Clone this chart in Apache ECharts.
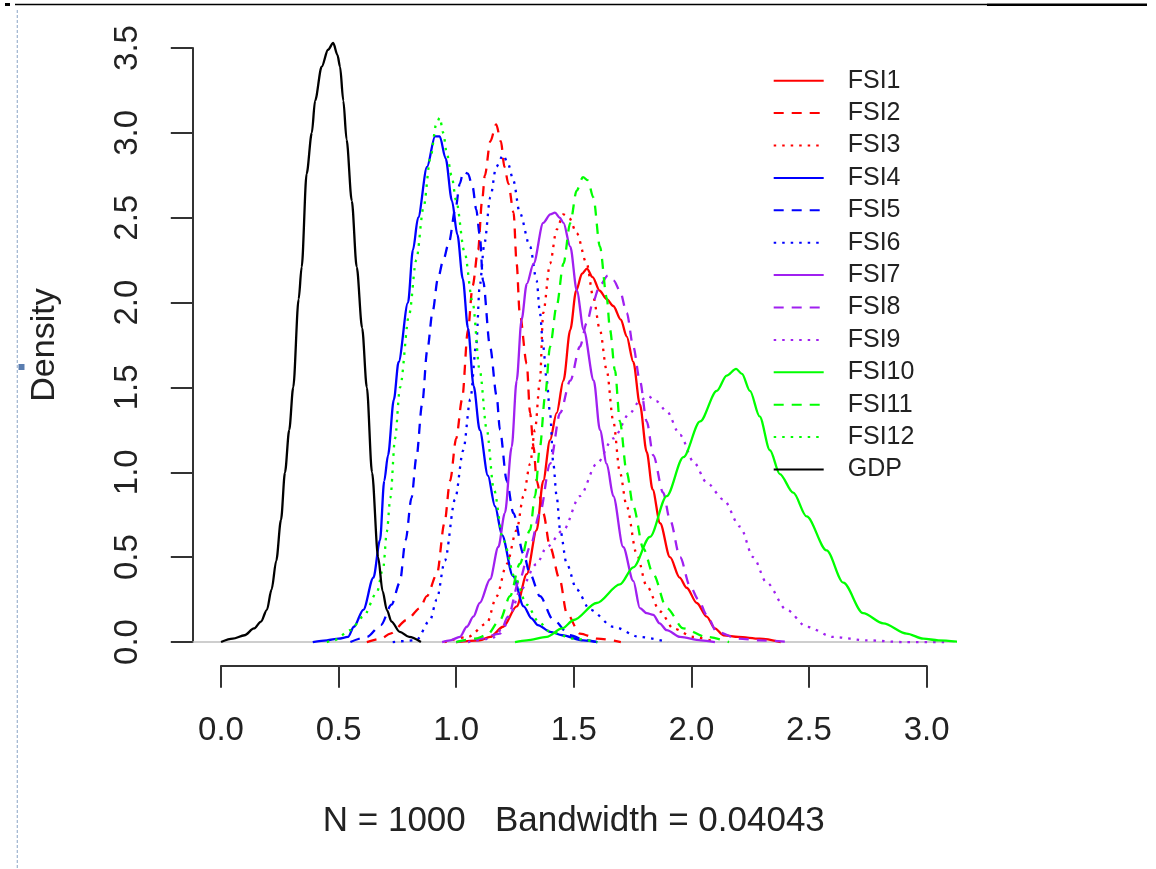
<!DOCTYPE html>
<html>
<head>
<meta charset="utf-8">
<script src="https://cdn.jsdelivr.net/npm/echarts@6/dist/echarts.min.js"></script>
<style>
html,body{margin:0;padding:0;background:#fff;}
#chart{width:1156px;height:869px;}
</style>
</head>
<body>
<div id="chart"></div>
<script>
// ---- data: [x, density] ----
const xTicks = [0, 0.5, 1.0, 1.5, 2.0, 2.5, 3.0];
const yTicks = [0, 0.5, 1.0, 1.5, 2.0, 2.5, 3.0, 3.5];
const seriesNames = ['FSI1','FSI2','FSI3','FSI4','FSI5','FSI6','FSI7','FSI8','FSI9','FSI10','FSI11','FSI12','GDP'];
const xLabel = 'N = 1000   Bandwidth = 0.04043';
const yLabel = 'Density';
const plotXRange = [-0.12, 3.12];
const plotYRange = [-0.14, 3.64];

const fsi1 = [[1.0,0.0],[1.1,0.01],[1.144,0.03],[1.2,0.09],[1.257,0.21],[1.3,0.40],[1.342,0.66],[1.37,0.95],[1.399,1.19],[1.427,1.35],[1.456,1.54],[1.485,1.84],[1.51,2.07],[1.535,2.17],[1.556,2.20],[1.58,2.15],[1.61,2.07],[1.64,2.02],[1.668,1.98],[1.70,1.9],[1.725,1.8],[1.753,1.65],[1.781,1.4],[1.81,1.12],[1.835,0.9],[1.867,0.70],[1.909,0.50],[1.95,0.38],[1.98,0.32],[2.023,0.23],[2.065,0.15],[2.1,0.08],[2.136,0.04],[2.2,0.03],[2.29,0.02],[2.38,0.0]];
const fsi2 = [[0.62,0.0],[0.68,0.02],[0.72,0.05],[0.79,0.13],[0.846,0.2],[0.875,0.27],[0.918,0.4],[0.95,0.7],[0.974,0.95],[1.0,1.2],[1.025,1.43],[1.05,1.84],[1.07,2.1],[1.093,2.31],[1.11,2.6],[1.122,2.75],[1.145,2.95],[1.17,3.05],[1.19,2.95],[1.205,2.8],[1.222,2.70],[1.244,2.53],[1.257,2.23],[1.27,1.94],[1.3,1.64],[1.314,1.35],[1.329,1.15],[1.342,0.95],[1.37,0.76],[1.399,0.56],[1.44,0.37],[1.47,0.17],[1.526,0.05],[1.6,0.02],[1.7,0.0]];
const fsi3 = [[0.95,0.0],[1.05,0.03],[1.13,0.11],[1.172,0.27],[1.215,0.46],[1.257,0.66],[1.286,0.86],[1.314,1.05],[1.335,1.25],[1.356,1.54],[1.37,1.94],[1.399,2.23],[1.427,2.43],[1.455,2.52],[1.48,2.5],[1.512,2.41],[1.555,2.23],[1.583,2.03],[1.611,1.84],[1.64,1.6],[1.668,1.3],[1.696,1.0],[1.725,0.8],[1.767,0.52],[1.81,0.33],[1.867,0.18],[1.923,0.08],[2.01,0.03],[2.1,0.0]];
const fsi4 = [[0.39,0.0],[0.45,0.01],[0.50,0.02],[0.54,0.03],[0.565,0.09],[0.605,0.19],[0.648,0.38],[0.676,0.6],[0.694,0.95],[0.71,1.1],[0.735,1.43],[0.755,1.65],[0.795,2.0],[0.816,2.31],[0.838,2.5],[0.876,2.8],[0.91,2.98],[0.93,2.98],[0.955,2.85],[0.982,2.6],[1.005,2.4],[1.028,2.14],[1.05,1.85],[1.074,1.51],[1.10,1.25],[1.135,0.98],[1.165,0.8],[1.195,0.63],[1.241,0.39],[1.287,0.21],[1.32,0.14],[1.347,0.10],[1.40,0.06],[1.45,0.04],[1.54,0.01],[1.6,0.0]];
const fsi5 = [[0.55,0.0],[0.62,0.03],[0.68,0.1],[0.725,0.22],[0.76,0.35],[0.785,0.6],[0.81,0.85],[0.831,1.09],[0.855,1.4],[0.877,1.72],[0.90,1.95],[0.922,2.14],[0.945,2.25],[0.968,2.35],[0.998,2.56],[1.015,2.7],[1.03,2.77],[1.05,2.76],[1.07,2.68],[1.085,2.55],[1.1,2.4],[1.114,2.13],[1.144,1.74],[1.172,1.45],[1.186,1.25],[1.215,0.95],[1.243,0.76],[1.286,0.52],[1.314,0.4],[1.356,0.27],[1.413,0.13],[1.484,0.04],[1.55,0.01],[1.6,0.0]];
const fsi6 = [[0.73,0.0],[0.83,0.01],[0.889,0.13],[0.917,0.25],[0.952,0.48],[0.995,0.84],[1.03,1.13],[1.06,1.43],[1.085,1.75],[1.1,2.1],[1.12,2.35],[1.145,2.62],[1.17,2.8],[1.2,2.87],[1.22,2.82],[1.243,2.72],[1.27,2.53],[1.314,2.33],[1.342,2.13],[1.356,1.94],[1.37,1.74],[1.385,1.54],[1.399,1.35],[1.413,1.05],[1.427,0.86],[1.442,0.66],[1.47,0.46],[1.512,0.31],[1.569,0.19],[1.668,0.09],[1.781,0.03],[1.9,0.0]];
const fsi7 = [[0.94,0.0],[0.974,0.01],[1.016,0.03],[1.045,0.09],[1.073,0.15],[1.1,0.23],[1.144,0.37],[1.179,0.56],[1.207,0.76],[1.236,1.15],[1.257,1.54],[1.278,1.90],[1.3,2.11],[1.329,2.23],[1.37,2.47],[1.40,2.52],[1.42,2.53],[1.44,2.5],[1.456,2.47],[1.485,2.33],[1.513,2.07],[1.542,1.84],[1.585,1.54],[1.611,1.25],[1.64,1.05],[1.668,0.86],[1.71,0.56],[1.753,0.36],[1.781,0.2],[1.81,0.17],[1.838,0.16],[1.865,0.11],[1.895,0.07],[1.952,0.03],[2.04,0.01],[2.1,0.0]];
const fsi8 = [[1.0,0.0],[1.1,0.02],[1.186,0.05],[1.22,0.15],[1.27,0.37],[1.314,0.56],[1.356,0.76],[1.399,1.05],[1.442,1.35],[1.485,1.54],[1.526,1.74],[1.555,1.88],[1.583,2.01],[1.61,2.1],[1.645,2.16],[1.67,2.13],[1.696,2.07],[1.725,1.94],[1.753,1.74],[1.781,1.54],[1.81,1.3],[1.838,1.1],[1.88,0.88],[1.909,0.72],[1.952,0.5],[1.994,0.33],[2.03,0.25],[2.065,0.16],[2.108,0.06],[2.2,0.02],[2.29,0.01],[2.42,0.0]];
const fsi9 = [[1.05,0.0],[1.15,0.02],[1.2,0.08],[1.235,0.18],[1.27,0.3],[1.342,0.46],[1.385,0.56],[1.456,0.66],[1.526,0.86],[1.597,1.05],[1.668,1.2],[1.739,1.35],[1.78,1.42],[1.815,1.45],[1.85,1.42],[1.895,1.36],[1.952,1.22],[2.01,1.06],[2.065,0.94],[2.136,0.84],[2.207,0.68],[2.263,0.5],[2.32,0.35],[2.405,0.19],[2.49,0.09],[2.603,0.03],[2.745,0.01],[2.9,0.0],[3.1,0.0]];
const fsi10 = [[1.25,0.0],[1.3,0.01],[1.385,0.03],[1.45,0.08],[1.5,0.13],[1.597,0.23],[1.696,0.34],[1.753,0.44],[1.824,0.62],[1.895,0.86],[1.966,1.09],[2.037,1.3],[2.108,1.48],[2.15,1.57],[2.19,1.61],[2.215,1.58],[2.249,1.48],[2.29,1.33],[2.334,1.13],[2.376,0.99],[2.433,0.88],[2.49,0.74],[2.575,0.54],[2.646,0.35],[2.73,0.17],[2.816,0.11],[2.915,0.05],[2.986,0.02],[3.05,0.01],[3.15,0.0]];
const fsi11 = [[1.0,0.0],[1.08,0.02],[1.13,0.04],[1.186,0.13],[1.229,0.27],[1.27,0.46],[1.314,0.66],[1.335,0.86],[1.356,1.15],[1.378,1.45],[1.399,1.74],[1.427,1.98],[1.456,2.23],[1.485,2.47],[1.512,2.66],[1.539,2.74],[1.56,2.72],[1.583,2.62],[1.611,2.33],[1.64,2.03],[1.654,1.84],[1.675,1.6],[1.696,1.3],[1.725,1.0],[1.753,0.8],[1.796,0.55],[1.838,0.4],[1.895,0.2],[1.966,0.08],[2.065,0.03],[2.16,0.0]];
const fsi12 = [[0.45,0.0],[0.48,0.01],[0.55,0.07],[0.605,0.15],[0.662,0.29],[0.69,0.44],[0.705,0.65],[0.72,0.85],[0.74,1.2],[0.761,1.5],[0.80,1.93],[0.83,2.25],[0.861,2.56],[0.89,2.85],[0.915,3.05],[0.93,3.09],[0.945,3.0],[0.96,2.88],[0.98,2.75],[1.0,2.6],[1.035,2.3],[1.07,2.0],[1.1,1.6],[1.13,1.25],[1.16,0.9],[1.2,0.6],[1.25,0.38],[1.3,0.22],[1.35,0.12],[1.4,0.06],[1.5,0.02],[1.6,0.0]];
const gdp = [[0.00,0.00],[0.05,0.02],[0.10,0.04],[0.14,0.08],[0.17,0.12],[0.195,0.19],[0.215,0.31],[0.235,0.48],[0.255,0.72],[0.272,1.0],[0.29,1.25],[0.307,1.5],[0.33,2.02],[0.343,2.21],[0.364,2.76],[0.386,3.0],[0.40,3.19],[0.428,3.39],[0.455,3.49],[0.477,3.53],[0.495,3.46],[0.506,3.39],[0.52,3.19],[0.534,2.96],[0.556,2.6],[0.577,2.21],[0.60,1.85],[0.62,1.5],[0.642,1.0],[0.668,0.5],[0.687,0.3],[0.705,0.19],[0.725,0.12],[0.76,0.06],[0.80,0.03],[0.85,0.0]];

const seriesData = [fsi1,fsi2,fsi3,fsi4,fsi5,fsi6,fsi7,fsi8,fsi9,fsi10,fsi11,fsi12,gdp];

// ---- styles ----
const RED='#FF0000', BLUE='#0000FF', PURPLE='#A020F0', GREEN='#00FF00', BLACK='#000000';
const seriesColors = [RED,RED,RED,BLUE,BLUE,BLUE,PURPLE,PURPLE,PURPLE,GREEN,GREEN,GREEN,BLACK];
const DASH=[10,8], DOT=[2.5,6];
const seriesDash = ['solid',DASH,DOT,'solid',DASH,DOT,'solid',DASH,DOT,'solid',DASH,DOT,'solid'];
const FONT = 'Liberation Sans, Arial, sans-serif';
const TXT = '#222';

const series = [{
  name: '__zero', type: 'line', xAxisIndex: 0, yAxisIndex: 0,
  data: [[plotXRange[0],0],[plotXRange[1],0]], showSymbol: false, symbol: 'none', silent: true, z: 1,
  lineStyle: {color: '#BEBEBE', width: 1.6}
}];
seriesNames.forEach((n, i) => {
  series.push({
    name: n, type: 'line', xAxisIndex: 0, yAxisIndex: 0,
    data: seriesData[i], symbol: 'none', showSymbol: false,
    smooth: 0.3, smoothMonotone: 'x', clip: true, z: 2,
    color: seriesColors[i],
    lineStyle: {color: seriesColors[i], width: 2.3, type: seriesDash[i], cap: 'butt'}
  });
});

const chart = echarts.init(document.getElementById('chart'), null, {renderer: 'canvas'});
chart.setOption({
  animation: false,
  backgroundColor: '#fff',
  grid: [
    {left: 192.8, top: 24.3, width: 762, height: 641.5, containLabel: false},
    {left: 221, top: 48, width: 705.6, height: 594, containLabel: false}
  ],
  xAxis: [
    {gridIndex: 0, type: 'value', min: plotXRange[0], max: plotXRange[1], show: false},
    {gridIndex: 1, type: 'value', min: xTicks[0], max: xTicks[xTicks.length-1], interval: 0.5,
     position: 'bottom', offset: 23.8,
     axisLine: {show: true, onZero: false, lineStyle: {color: '#333', width: 2}},
     axisTick: {show: true, length: 22, inside: false, lineStyle: {color: '#333', width: 2}},
     axisLabel: {show: true, margin: 49, fontSize: 33, fontFamily: FONT, color: TXT,
                 formatter: v => v.toFixed(1), showMinLabel: true, showMaxLabel: true},
     splitLine: {show: false},
     name: xLabel, nameLocation: 'middle', nameGap: 138,
     nameTextStyle: {fontSize: 35, fontFamily: FONT, color: TXT}
    }
  ],
  yAxis: [
    {gridIndex: 0, type: 'value', min: plotYRange[0], max: plotYRange[1], show: false},
    {gridIndex: 1, type: 'value', min: yTicks[0], max: yTicks[yTicks.length-1], interval: 0.5,
     position: 'left', offset: 28.2,
     axisLine: {show: true, onZero: false, lineStyle: {color: '#333', width: 2}},
     axisTick: {show: true, length: 22, inside: false, lineStyle: {color: '#333', width: 2}},
     axisLabel: {show: true, rotate: 90, margin: 48.5, fontSize: 33, fontFamily: FONT, color: TXT,
                 formatter: v => v.toFixed(1), showMinLabel: true, showMaxLabel: true},
     splitLine: {show: false},
     name: yLabel, nameLocation: 'middle', nameGap: 131, nameRotate: 90,
     nameTextStyle: {fontSize: 34, fontFamily: FONT, color: TXT}
    }
  ],
  legend: {
    data: seriesNames, orient: 'vertical', left: 772.7, top: 67.7, padding: 0,
    itemWidth: 50, itemHeight: 26, itemGap: 6.4,
    itemStyle: {opacity: 0},
    textStyle: {fontSize: 25, fontFamily: FONT, color: TXT, lineHeight: 26, padding: [0,0,0,19]},
    selectedMode: false
  },
  graphic: [
    {type: 'line', shape: {x1: 15, y1: 4.5, x2: 987, y2: 4.5}, style: {stroke: '#000', lineWidth: 1.3}, silent: true},
    {type: 'line', shape: {x1: 987, y1: 4.8, x2: 1147, y2: 4.8}, style: {stroke: '#000', lineWidth: 2.6}, silent: true},
    {type: 'line', shape: {x1: 5, y1: 4.5, x2: 10, y2: 4.5}, style: {stroke: '#000', lineWidth: 3}, silent: true},
    {type: 'line', shape: {x1: 17.3, y1: 10, x2: 17.3, y2: 869}, style: {stroke: '#9DB3CF', lineWidth: 1.2, lineDash: [3, 2]}, silent: true},
    {type: 'rect', shape: {x: 18.5, y: 364, width: 6, height: 6}, style: {fill: '#5A7DB0'}, silent: true}
  ],
  series: series
});
</script>
</body>
</html>
